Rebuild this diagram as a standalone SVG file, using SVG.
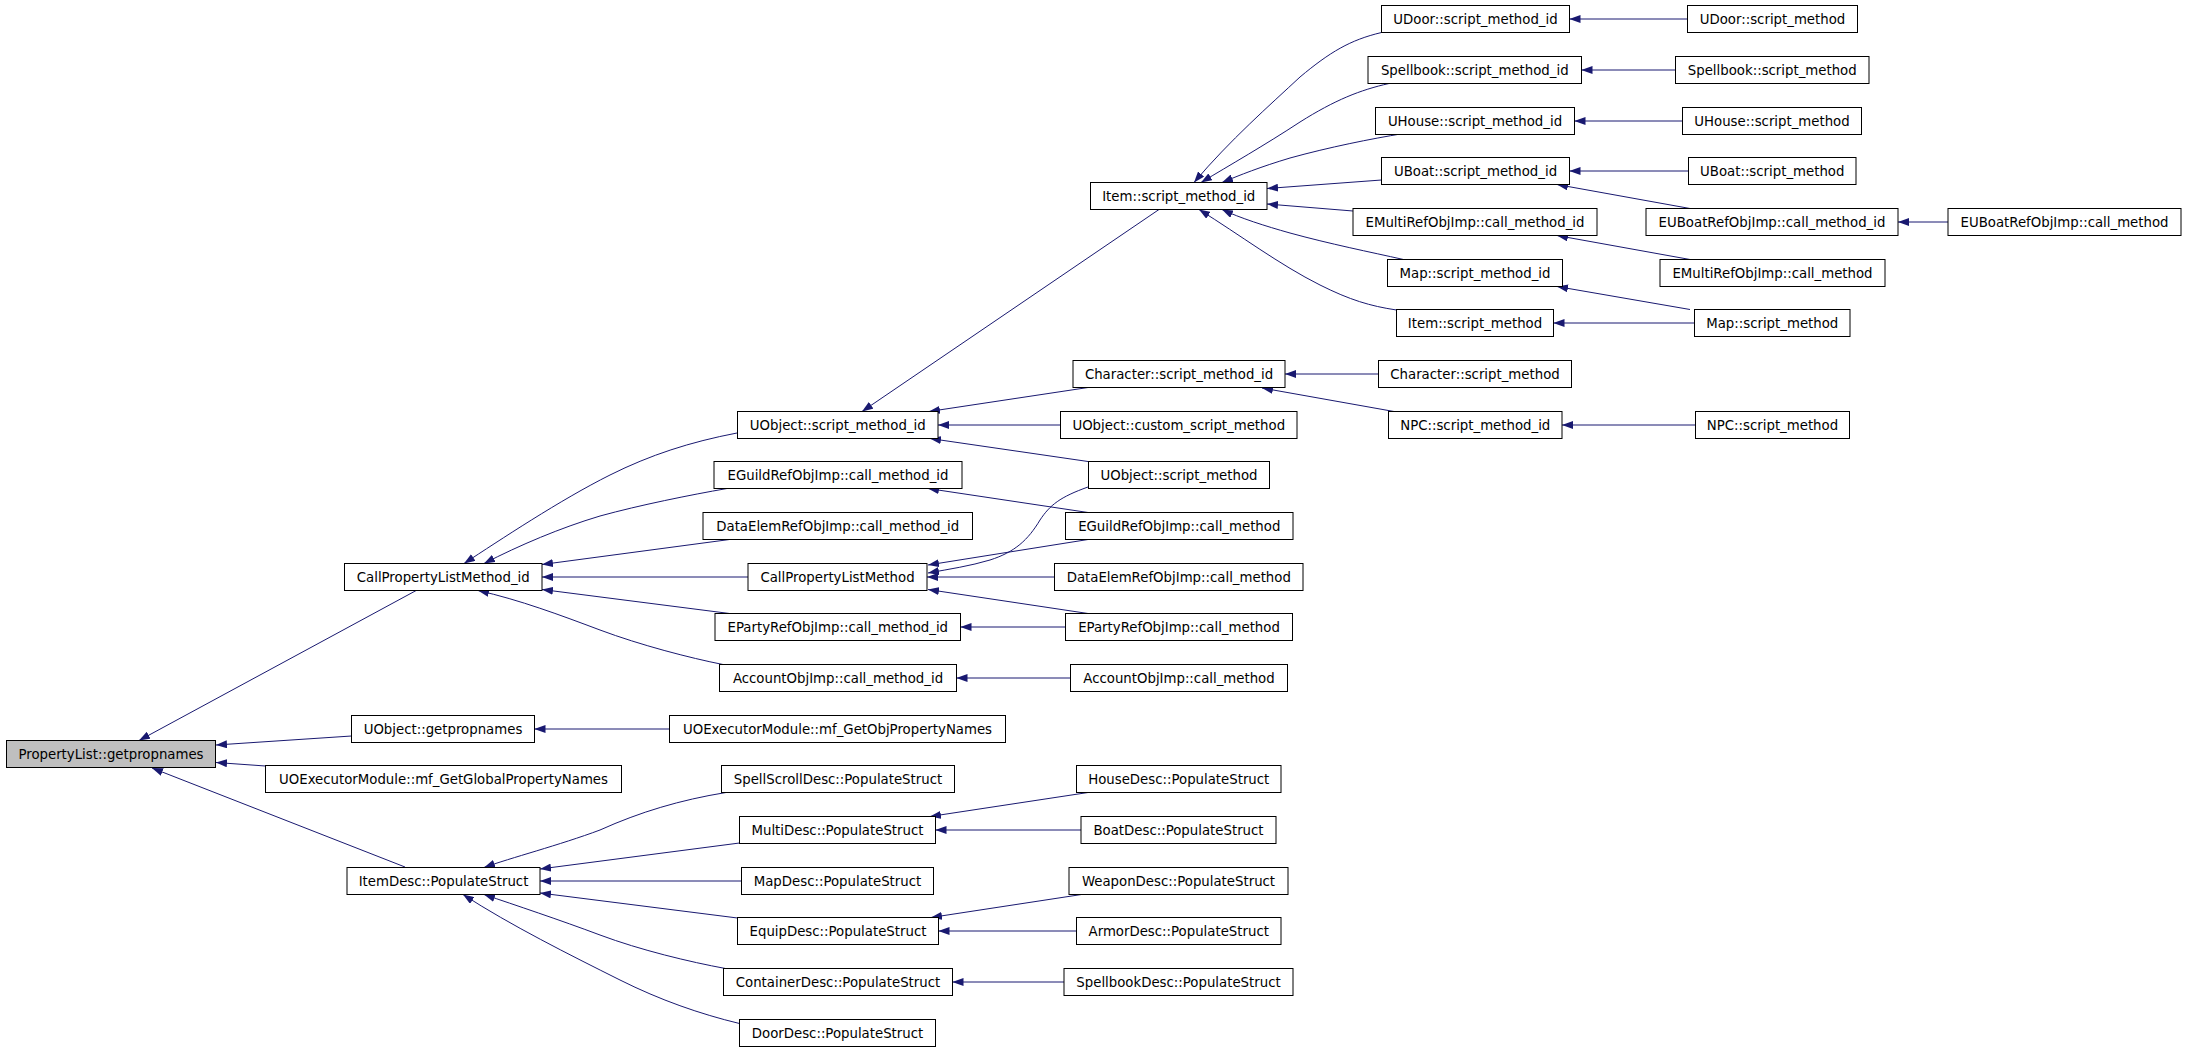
<svg xmlns="http://www.w3.org/2000/svg" width="2187" height="1051" viewBox="0 0 2187 1051">
<style>
.n rect{fill:#fff;stroke:#000;stroke-width:1}
.n.h rect{fill:#bfbfbf}
.n text{font-family:"DejaVu Sans",sans-serif;font-size:13.3px;text-anchor:middle;fill:#000}
.e path{fill:none;stroke:#191970;stroke-width:1;marker-end:url(#a)}
</style>
<defs>
<marker id="a" markerWidth="11" markerHeight="8" refX="11" refY="4" orient="auto" markerUnits="userSpaceOnUse"><path d="M0,0 L11,4 L0,8 z" fill="#191970"/></marker>
</defs>
<rect width="2187" height="1051" fill="#fff"/>
<g id="edges" class="e">
<path d="M418,589.5 L139,740.5"/>
<path d="M351.5,736 L216,745"/>
<path d="M265.5,766 L216,762.5"/>
<path d="M405,867 L152,768"/>
<path d="M737,433 C690,442 650,455 610,475 C560,500 500,540 464,563.5"/>
<path d="M727,488.5 C690,495 640,505 600,516 C560,528 520,545 484,563.5"/>
<path d="M729.5,539.5 L542,564.5"/>
<path d="M748,577 L542,577"/>
<path d="M729.5,613.5 L542,589.5"/>
<path d="M723,664.5 C690,658 640,645 600,630 C560,615 520,600 478,590.5"/>
<path d="M1159,209.5 L862,411.5"/>
<path d="M1088,387.5 L929,411.5"/>
<path d="M1060.5,425 L938,425"/>
<path d="M1088,461.5 L930,438.5"/>
<path d="M1088,512.5 L928,488.5"/>
<path d="M1088,487 C1060,497 1050,505 1040,520 C1028,540 1015,552 990,560 C970,566 950,569 928,573"/>
<path d="M1088,539.5 L928,565"/>
<path d="M1054.5,577 L927,577"/>
<path d="M1088,613.5 L928,589.5"/>
<path d="M1065.5,627 L960.5,627"/>
<path d="M1070.5,678 L956.5,678"/>
<path d="M669.5,729 L534.5,729"/>
<path d="M726,792.5 C680,800 640,812 600,830 C560,845 510,858 484,867.5"/>
<path d="M739.5,843 L540,869"/>
<path d="M741.5,881 L540,881"/>
<path d="M737.5,918 L540,893"/>
<path d="M725.5,968.5 C690,962 640,950 600,935 C560,920 515,905 484,894.5"/>
<path d="M739.5,1023.5 C700,1014 660,1000 620,980 C570,955 510,925 463,894.5"/>
<path d="M1088,792.5 L930,816.5"/>
<path d="M1081,830 L935.5,830"/>
<path d="M1088,893.5 L931,917.5"/>
<path d="M1076.5,931 L938.5,931"/>
<path d="M1064,982 L952.5,982"/>
<path d="M1381.5,32.5 C1350,40 1330,52 1300,77 C1270,105 1230,140 1194,182.5"/>
<path d="M1389,83.5 C1360,90 1335,100 1300,122 C1265,145 1230,165 1201,182.5"/>
<path d="M1403.5,133.5 C1370,139 1330,147 1290,158 C1260,167 1240,175 1222,182.5"/>
<path d="M1381.5,180 L1267,188.5"/>
<path d="M1353,211 L1267,204"/>
<path d="M1403.5,259.5 C1370,252 1330,244 1290,233 C1265,226 1240,218 1222,209.5"/>
<path d="M1396.5,310 C1370,306 1350,300 1320,285 C1280,265 1240,235 1199,209.5"/>
<path d="M1687.5,19 L1569.5,19"/>
<path d="M1675.5,70 L1581.5,70"/>
<path d="M1682.5,121 L1574.5,121"/>
<path d="M1688.5,171 L1569.5,171"/>
<path d="M1690,208.5 L1557,184.5"/>
<path d="M1690,259.5 L1557,235.5"/>
<path d="M1690,309.5 L1557,286.5"/>
<path d="M1694.5,323 L1553.5,323"/>
<path d="M1948,222 L1898,222"/>
<path d="M1378.5,374 L1285,374"/>
<path d="M1394,411.5 L1262,388"/>
<path d="M1695.5,425 L1562,425"/>
</g>
<g id="n1" class="n h"><rect x="6.5" y="740.5" width="209" height="27"/><text x="111" y="759">PropertyList::getpropnames</text></g>
<g id="n2" class="n"><rect x="344.5" y="563.5" width="197.5" height="27"/><text x="443.25" y="582">CallPropertyListMethod_id</text></g>
<g id="n3" class="n"><rect x="351.5" y="715.5" width="183" height="27"/><text x="443" y="734">UObject::getpropnames</text></g>
<g id="n4" class="n"><rect x="265.5" y="765.5" width="356" height="27"/><text x="443.5" y="784">UOExecutorModule::mf_GetGlobalPropertyNames</text></g>
<g id="n5" class="n"><rect x="347" y="867.5" width="193" height="27"/><text x="443.5" y="886">ItemDesc::PopulateStruct</text></g>
<g id="n6" class="n"><rect x="737.5" y="411.5" width="200.5" height="27"/><text x="837.75" y="430">UObject::script_method_id</text></g>
<g id="n7" class="n"><rect x="714" y="461.5" width="248" height="27"/><text x="838" y="480">EGuildRefObjImp::call_method_id</text></g>
<g id="n8" class="n"><rect x="703" y="512.5" width="269.5" height="27"/><text x="837.75" y="531">DataElemRefObjImp::call_method_id</text></g>
<g id="n9" class="n"><rect x="748" y="563.5" width="179" height="27"/><text x="837.5" y="582">CallPropertyListMethod</text></g>
<g id="n10" class="n"><rect x="715" y="613.5" width="245.5" height="27"/><text x="837.75" y="632">EPartyRefObjImp::call_method_id</text></g>
<g id="n11" class="n"><rect x="719.5" y="664.5" width="237" height="27"/><text x="838" y="683">AccountObjImp::call_method_id</text></g>
<g id="n12" class="n"><rect x="669.5" y="715.5" width="336" height="27"/><text x="837.5" y="734">UOExecutorModule::mf_GetObjPropertyNames</text></g>
<g id="n13" class="n"><rect x="721.5" y="765.5" width="233" height="27"/><text x="838" y="784">SpellScrollDesc::PopulateStruct</text></g>
<g id="n14" class="n"><rect x="739.5" y="816.5" width="196" height="27"/><text x="837.5" y="835">MultiDesc::PopulateStruct</text></g>
<g id="n15" class="n"><rect x="741.5" y="867.5" width="192" height="27"/><text x="837.5" y="886">MapDesc::PopulateStruct</text></g>
<g id="n16" class="n"><rect x="737.5" y="917.5" width="201" height="27"/><text x="838" y="936">EquipDesc::PopulateStruct</text></g>
<g id="n17" class="n"><rect x="723.5" y="968.5" width="229" height="27"/><text x="838" y="987">ContainerDesc::PopulateStruct</text></g>
<g id="n18" class="n"><rect x="739.5" y="1019.5" width="196" height="27"/><text x="837.5" y="1038">DoorDesc::PopulateStruct</text></g>
<g id="n19" class="n"><rect x="1090.5" y="182.5" width="176.5" height="27"/><text x="1178.75" y="201">Item::script_method_id</text></g>
<g id="n20" class="n"><rect x="1073" y="360.5" width="212" height="27"/><text x="1179" y="379">Character::script_method_id</text></g>
<g id="n21" class="n"><rect x="1060.5" y="411.5" width="236.5" height="27"/><text x="1178.75" y="430">UObject::custom_script_method</text></g>
<g id="n22" class="n"><rect x="1088.5" y="461.5" width="181" height="27"/><text x="1179" y="480">UObject::script_method</text></g>
<g id="n23" class="n"><rect x="1065.5" y="512.5" width="227.5" height="27"/><text x="1179.25" y="531">EGuildRefObjImp::call_method</text></g>
<g id="n24" class="n"><rect x="1054.5" y="563.5" width="248.5" height="27"/><text x="1178.75" y="582">DataElemRefObjImp::call_method</text></g>
<g id="n25" class="n"><rect x="1065.5" y="613.5" width="227" height="27"/><text x="1179" y="632">EPartyRefObjImp::call_method</text></g>
<g id="n26" class="n"><rect x="1070.5" y="664.5" width="217" height="27"/><text x="1179" y="683">AccountObjImp::call_method</text></g>
<g id="n27" class="n"><rect x="1076.5" y="765.5" width="204.5" height="27"/><text x="1178.75" y="784">HouseDesc::PopulateStruct</text></g>
<g id="n28" class="n"><rect x="1081" y="816.5" width="195" height="27"/><text x="1178.5" y="835">BoatDesc::PopulateStruct</text></g>
<g id="n29" class="n"><rect x="1069" y="867.5" width="219" height="27"/><text x="1178.5" y="886">WeaponDesc::PopulateStruct</text></g>
<g id="n30" class="n"><rect x="1076.5" y="917.5" width="204.5" height="27"/><text x="1178.75" y="936">ArmorDesc::PopulateStruct</text></g>
<g id="n31" class="n"><rect x="1064" y="968.5" width="229" height="27"/><text x="1178.5" y="987">SpellbookDesc::PopulateStruct</text></g>
<g id="n32" class="n"><rect x="1381.5" y="5.5" width="188" height="27"/><text x="1475.5" y="24">UDoor::script_method_id</text></g>
<g id="n33" class="n"><rect x="1368" y="56.5" width="213.5" height="27"/><text x="1474.75" y="75">Spellbook::script_method_id</text></g>
<g id="n34" class="n"><rect x="1375.5" y="107.5" width="199" height="27"/><text x="1475" y="126">UHouse::script_method_id</text></g>
<g id="n35" class="n"><rect x="1381.5" y="157.5" width="188" height="27"/><text x="1475.5" y="176">UBoat::script_method_id</text></g>
<g id="n36" class="n"><rect x="1353" y="208.5" width="244" height="27"/><text x="1475" y="227">EMultiRefObjImp::call_method_id</text></g>
<g id="n37" class="n"><rect x="1387.5" y="259.5" width="175" height="27"/><text x="1475" y="278">Map::script_method_id</text></g>
<g id="n38" class="n"><rect x="1396.5" y="309.5" width="157" height="27"/><text x="1475" y="328">Item::script_method</text></g>
<g id="n39" class="n"><rect x="1378.5" y="360.5" width="193" height="27"/><text x="1475" y="379">Character::script_method</text></g>
<g id="n40" class="n"><rect x="1388.5" y="411.5" width="173.5" height="27"/><text x="1475.25" y="430">NPC::script_method_id</text></g>
<g id="n41" class="n"><rect x="1687.5" y="5.5" width="170" height="27"/><text x="1772.5" y="24">UDoor::script_method</text></g>
<g id="n42" class="n"><rect x="1675.5" y="56.5" width="193.5" height="27"/><text x="1772.25" y="75">Spellbook::script_method</text></g>
<g id="n43" class="n"><rect x="1682.5" y="107.5" width="179" height="27"/><text x="1772" y="126">UHouse::script_method</text></g>
<g id="n44" class="n"><rect x="1688.5" y="157.5" width="167.5" height="27"/><text x="1772.25" y="176">UBoat::script_method</text></g>
<g id="n45" class="n"><rect x="1646" y="208.5" width="252" height="27"/><text x="1772" y="227">EUBoatRefObjImp::call_method_id</text></g>
<g id="n46" class="n"><rect x="1660" y="259.5" width="225" height="27"/><text x="1772.5" y="278">EMultiRefObjImp::call_method</text></g>
<g id="n47" class="n"><rect x="1694.5" y="309.5" width="155.5" height="27"/><text x="1772.25" y="328">Map::script_method</text></g>
<g id="n48" class="n"><rect x="1695.5" y="411.5" width="154" height="27"/><text x="1772.5" y="430">NPC::script_method</text></g>
<g id="n49" class="n"><rect x="1948" y="208.5" width="233" height="27"/><text x="2064.5" y="227">EUBoatRefObjImp::call_method</text></g>
</svg>
